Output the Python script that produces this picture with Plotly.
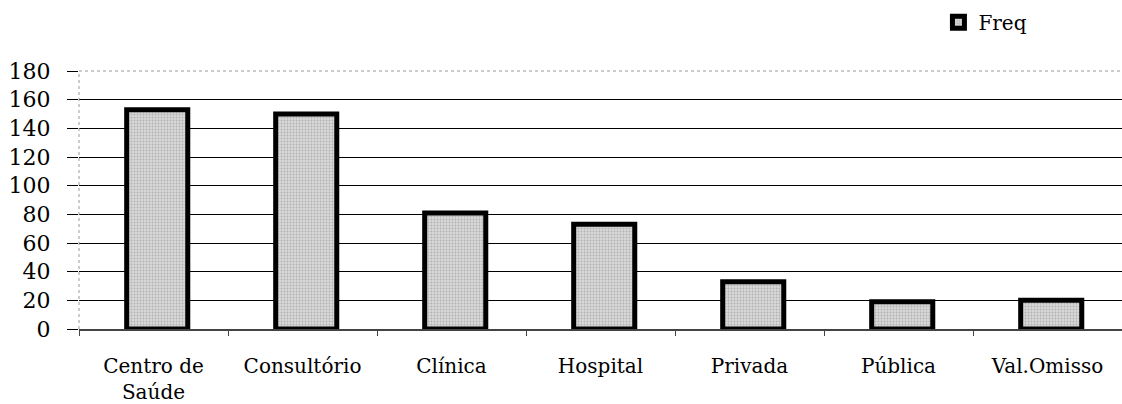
import plotly.graph_objects as go

# Frequência por local de atendimento
categories = ["Centro de<br>Saúde", "Consultório", "Clínica", "Hospital",
              "Privada", "Pública", "Val.Omisso"]
freq = [153, 150, 81, 73, 33, 19, 20]
y_ticks = [0, 20, 40, 60, 80, 100, 120, 140, 160, 180]

SERIF = "DejaVu Serif"

fig = go.Figure()
fig.add_trace(go.Bar(
    x=categories,
    y=freq,
    name="Freq",
    width=0.41,
    offset=-0.18,
    marker=dict(
        color="#cfcfcf",
        line=dict(color="black", width=5),
        pattern=dict(shape=".", fgcolor="#8a8a8a", bgcolor="#d8d8d8",
                     size=3, solidity=0.3, fillmode="overlay"),
    ),
))

fig.update_layout(
    width=1122,
    height=404,
    margin=dict(l=79, r=0, t=71, b=75),
    paper_bgcolor="white",
    plot_bgcolor="white",
    font=dict(family=SERIF, color="black"),
    showlegend=True,
    legend=dict(
        x=0.824, y=1.265, xanchor="left", yanchor="top",
        font=dict(family=SERIF, size=20, color="black"),
        bgcolor="rgba(0,0,0,0)",
        itemwidth=30,
    ),
    bargap=0.5,
    xaxis=dict(
        type="category",
        showgrid=False,
        showline=True,
        linecolor="#444",
        linewidth=1.5,
        ticks="outside",
        tickson="boundaries",
        ticklen=5,
        tickcolor="#444",
        tickfont=dict(family=SERIF, size=20, color="black"),
        ticklabelstandoff=18,
    ),
    yaxis=dict(
        range=[0, 180],
        tickvals=y_ticks,
        showgrid=True,
        gridcolor="black",
        gridwidth=1,
        zeroline=False,
        showline=False,
        ticks="outside",
        ticklen=11,
        tickcolor="black",
        tickfont=dict(family=SERIF, size=22, color="black"),
        ticklabelstandoff=12,
    ),
    shapes=[
        # dotted plot-area border (top and left)
        dict(type="line", xref="paper", yref="paper", x0=0, x1=1, y0=1, y1=1,
             line=dict(color="#9a9a9a", width=1, dash="dot"), layer="above"),
        dict(type="line", xref="paper", yref="paper", x0=0, x1=0, y0=0, y1=1,
             line=dict(color="#9a9a9a", width=1, dash="dot"), layer="above"),
    ],
)

fig.write_html("out.html")
